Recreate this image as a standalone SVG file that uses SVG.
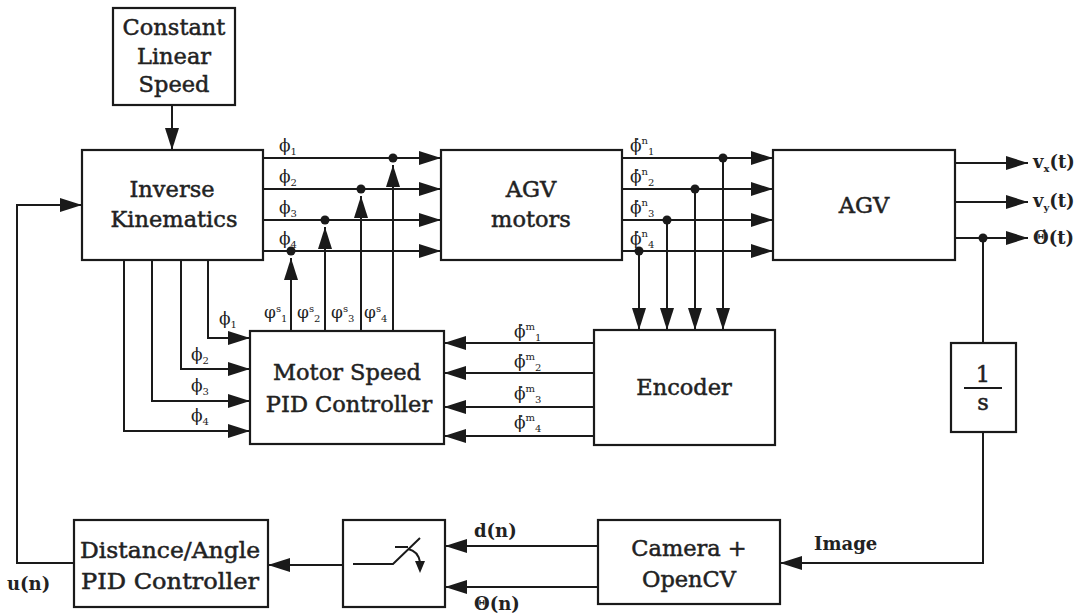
<svg xmlns="http://www.w3.org/2000/svg" width="1087" height="615" viewBox="0 0 1087 615">
<defs>
<marker id="ah" markerUnits="userSpaceOnUse" markerWidth="22" markerHeight="14" refX="22" refY="7" orient="auto">
<path d="M0,0 L22,7 L0,14 z" fill="#1a1a1a"/>
</marker>
<style>
.box{fill:#fff;stroke:#1a1a1a;stroke-width:2.2}
.ln{fill:none;stroke:#1a1a1a;stroke-width:2}
.ar{fill:none;stroke:#1a1a1a;stroke-width:2;marker-end:url(#ah)}
.dot{fill:#1a1a1a}
.t{font-family:"DejaVu Serif","Liberation Serif",serif;font-size:22.5px;fill:#222;stroke:#222;stroke-width:0.5;text-anchor:middle}
.l{font-family:"DejaVu Serif","Liberation Serif",serif;font-size:17px;fill:#222}
.b{font-weight:bold;font-size:18px}
.s{font-size:10px}
</style>
</defs>
<rect width="1087" height="615" fill="#fff"/>

<g id="connectors">
<path class="ar" d="M172,105 V150"/>
<path class="ar" d="M263,158 H441"/>
<path class="ar" d="M263,189 H441"/>
<path class="ar" d="M263,220 H441"/>
<path class="ar" d="M263,251 H441"/>
<path class="ar" d="M622,158 H773"/>
<path class="ar" d="M622,189 H773"/>
<path class="ar" d="M622,220 H773"/>
<path class="ar" d="M622,251 H773"/>
<path class="ar" d="M955,163 H1028"/>
<path class="ar" d="M955,202 H1028"/>
<path class="ar" d="M955,238 H1028"/>
<path class="ln" d="M983,238 V343"/>
<path class="ar" d="M983,432 V563 H780"/>
<path class="ar" d="M598,546 H445"/>
<path class="ar" d="M598,587 H445"/>
<path class="ar" d="M343,565 H268"/>
<path class="ar" d="M74,563 H17 V205 H82"/>
<path class="ar" d="M208,260 V338 H250"/>
<path class="ar" d="M181,260 V369 H250"/>
<path class="ar" d="M152,260 V401 H250"/>
<path class="ar" d="M124,260 V431 H250"/>
<path class="ar" d="M291,331 V258"/>
<path class="ar" d="M325,331 V227"/>
<path class="ar" d="M361,331 V196"/>
<path class="ar" d="M393,331 V165"/>
<path class="ar" d="M639,251 V330"/>
<path class="ar" d="M667,220 V330"/>
<path class="ar" d="M695,189 V330"/>
<path class="ar" d="M723,158 V330"/>
<path class="ar" d="M594,343 H444"/>
<path class="ar" d="M594,373 H444"/>
<path class="ar" d="M594,407 H444"/>
<path class="ar" d="M594,436 H444"/>
<circle class="dot" cx="291" cy="251" r="4.5"/>
<circle class="dot" cx="325" cy="220" r="4.5"/>
<circle class="dot" cx="361" cy="189" r="4.5"/>
<circle class="dot" cx="393" cy="158" r="4.5"/>
<circle class="dot" cx="639" cy="251" r="4.5"/>
<circle class="dot" cx="667" cy="220" r="4.5"/>
<circle class="dot" cx="695" cy="189" r="4.5"/>
<circle class="dot" cx="723" cy="158" r="4.5"/>
<circle class="dot" cx="983" cy="238" r="4.5"/>
</g>

<g id="labels">
<text class="l" x="279" y="151">ϕ<tspan class="s" dy="4">1</tspan></text>
<text class="l" x="279" y="182">ϕ<tspan class="s" dy="4">2</tspan></text>
<text class="l" x="279" y="213">ϕ<tspan class="s" dy="4">3</tspan></text>
<text class="l" x="279" y="244">ϕ<tspan class="s" dy="4">4</tspan></text>
<text class="l" x="264" y="318">φ<tspan class="s" dy="-6">s</tspan><tspan class="s" dy="10">1</tspan></text>
<text class="l" x="297" y="318">φ<tspan class="s" dy="-6">s</tspan><tspan class="s" dy="10">2</tspan></text>
<text class="l" x="331" y="318">φ<tspan class="s" dy="-6">s</tspan><tspan class="s" dy="10">3</tspan></text>
<text class="l" x="364" y="318">φ<tspan class="s" dy="-6">s</tspan><tspan class="s" dy="10">4</tspan></text>
<text class="l" x="219" y="324">ϕ<tspan class="s" dy="4">1</tspan></text>
<text class="l" x="191" y="360">ϕ<tspan class="s" dy="4">2</tspan></text>
<text class="l" x="191" y="391">ϕ<tspan class="s" dy="4">3</tspan></text>
<text class="l" x="191" y="421">ϕ<tspan class="s" dy="4">4</tspan></text>
<text class="l" x="630" y="151">ϕ̇<tspan class="s" dy="-7">n</tspan><tspan class="s" dy="11">1</tspan></text>
<text class="l" x="630" y="182">ϕ̇<tspan class="s" dy="-7">n</tspan><tspan class="s" dy="11">2</tspan></text>
<text class="l" x="630" y="213">ϕ̇<tspan class="s" dy="-7">n</tspan><tspan class="s" dy="11">3</tspan></text>
<text class="l" x="630" y="244">ϕ̇<tspan class="s" dy="-7">n</tspan><tspan class="s" dy="11">4</tspan></text>
<text class="l" x="514" y="337">ϕ̇<tspan class="s" dy="-7">m</tspan><tspan class="s" dy="11">1</tspan></text>
<text class="l" x="514" y="367">ϕ̇<tspan class="s" dy="-7">m</tspan><tspan class="s" dy="11">2</tspan></text>
<text class="l" x="514" y="399">ϕ̇<tspan class="s" dy="-7">m</tspan><tspan class="s" dy="11">3</tspan></text>
<text class="l" x="514" y="428">ϕ̇<tspan class="s" dy="-7">m</tspan><tspan class="s" dy="11">4</tspan></text>
<text class="l b" x="1033" y="168">v<tspan class="s" dy="4">x</tspan><tspan dy="-4">(t)</tspan></text>
<text class="l b" x="1033" y="207">v<tspan class="s" dy="4">y</tspan><tspan dy="-4">(t)</tspan></text>
<text class="l b" x="1033" y="244">Θ̇(t)</text>
<text class="l b" x="474" y="537">d(n)</text>
<text class="l b" x="474" y="610">Θ(n)</text>
<text class="l b" x="814" y="550">Image</text>
<text class="l b" x="7" y="590">u(n)</text>
</g>

<g id="constant-linear-speed">
<rect class="box" x="113" y="8" width="122" height="97"/>
<text class="t" x="174" y="35" font-size="19">Constant</text>
<text class="t" x="174" y="64" font-size="19">Linear</text>
<text class="t" x="174" y="92" font-size="19">Speed</text>
</g>
<g id="inverse-kinematics">
<rect class="box" x="82" y="150" width="181" height="110"/>
<text class="t" x="172" y="197">Inverse</text>
<text class="t" x="174" y="227">Kinematics</text>
</g>
<g id="agv-motors">
<rect class="box" x="441" y="150" width="181" height="110"/>
<text class="t" x="531" y="197">AGV</text>
<text class="t" x="531" y="227">motors</text>
</g>
<g id="agv">
<rect class="box" x="773" y="150" width="182" height="110"/>
<text class="t" x="864" y="213">AGV</text>
</g>
<g id="motor-speed-pid">
<rect class="box" x="250" y="331" width="194" height="113"/>
<text class="t" x="347" y="380">Motor Speed</text>
<text class="t" x="349" y="412">PID Controller</text>
</g>
<g id="encoder">
<rect class="box" x="594" y="330" width="181" height="115"/>
<text class="t" x="684" y="395">Encoder</text>
</g>
<g id="integrator">
<rect class="box" x="951" y="343" width="65" height="89"/>
<text class="t" x="983" y="382">1</text>
<path class="ln" d="M964,388 H1002"/>
<text class="t" x="983" y="410">s</text>
</g>
<g id="camera-opencv">
<rect class="box" x="598" y="520" width="182" height="84"/>
<text class="t" x="689" y="556">Camera +</text>
<text class="t" x="689" y="587">OpenCV</text>
</g>
<g id="sampler">
<rect class="box" x="343" y="520" width="102" height="87"/>
<path class="ln" d="M353,564 H393 L420,538"/>
<path class="ln" d="M395,547 H408"/>
<path class="ln" d="M408,549 Q418,551 420,562"/>
<path d="M415,561 L425,561 L420,573 z" fill="#1a1a1a"/>
</g>
<g id="distance-angle-pid">
<rect class="box" x="74" y="520" width="194" height="87"/>
<text class="t" x="170" y="558" font-size="24" textLength="180" lengthAdjust="spacingAndGlyphs">Distance/Angle</text>
<text class="t" x="170" y="589" font-size="24" textLength="178" lengthAdjust="spacingAndGlyphs">PID Controller</text>
</g>
</svg>
